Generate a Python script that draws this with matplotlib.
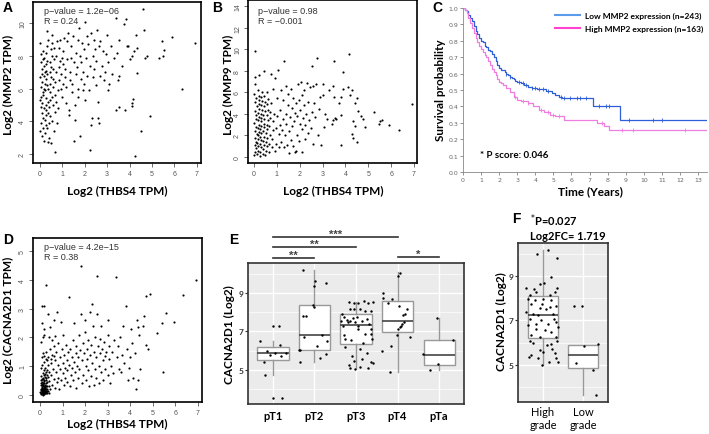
import numpy as np
import matplotlib
matplotlib.use("Agg")
import matplotlib.pyplot as plt
from matplotlib.lines import Line2D

# ---- data ----
# A: THBS4 vs MMP2 (log2 TPM)
pts_mmp2 = [(0.02,3.4),(0.05,3.9),(0.08,4.5),(0.03,4.9),(0.10,5.1),(0.06,5.5),(0.12,5.8),(0.04,6.1),(0.09,6.4),(0.02,6.7),(0.11,6.9),(0.07,7.2),(0.03,7.6),(0.13,7.8),(0.05,8.1),(0.0,8.8),(0.15,8.3),(0.08,3.1),(0.14,4.2),(0.01,5.3),
    (0.16,4.8),(0.18,6.0),(0.17,6.8),(0.19,7.4),(0.14,3.6),(0.20,2.8),(0.15,5.6),(0.21,6.3),(0.22,7.0),(0.16,7.9),
    (0.24,3.3),(0.26,3.8),(0.23,4.1),(0.28,4.4),(0.25,4.7),(0.29,5.0),(0.27,5.4),(0.24,5.9),(0.30,6.2),(0.26,6.6),(0.31,6.9),(0.28,7.1),(0.25,7.5),(0.33,7.7),(0.29,8.2),(0.32,8.6),(0.34,9.0),(0.30,9.5),(0.36,5.2),(0.35,6.0),(0.37,4.5),(0.33,3.6),(0.38,2.75),
    (0.40,3.0),(0.42,3.9),(0.45,4.3),(0.41,4.9),(0.47,5.3),(0.44,5.8),(0.43,6.3),(0.48,6.7),(0.46,7.0),(0.50,7.3),(0.45,7.6),(0.52,8.0),(0.49,8.4),(0.53,8.8),(0.55,9.3),(0.51,2.7),(0.56,4.0),(0.58,5.0),(0.54,5.5),(0.57,6.1),(0.60,6.6),(0.59,7.2),(0.62,7.8),(0.61,8.5),(0.64,3.4),(0.66,4.6),(0.68,5.6),(0.65,6.4),(0.70,7.0),(0.69,2.15),(0.72,8.0),(0.74,8.9),(0.71,5.2),
    (0.78,3.9),(0.80,4.8),(0.82,5.9),(0.85,6.5),(0.83,7.3),(0.88,7.7),(0.86,8.5),(0.90,9.0),(0.92,6.0),(0.95,6.9),(0.97,7.9),(1.00,5.5),(1.02,6.3),(1.05,7.5),(1.03,8.3),(1.08,9.1),(1.10,6.7),(1.12,7.2),(1.15,5.1),(1.18,6.1),(1.20,7.8),(1.22,8.9),(1.25,9.4),(1.28,4.4),(1.30,4.7),(1.32,6.5),(1.35,7.0),(1.38,7.9),(1.40,8.6),(1.42,5.8),(1.45,6.3),(1.48,9.2),(1.50,7.6),(1.52,2.8),(1.55,5.0),(1.58,4.1),(1.60,6.9),(1.62,8.2),(1.65,7.3),(1.68,6.0),(1.70,5.5),(1.72,9.0),(1.75,9.7),(1.78,8.0),(1.80,3.1),(1.82,6.6),(1.85,7.6),(1.88,8.8),(1.90,5.9),(1.92,7.0),(1.95,8.4),(1.98,6.3),(2.00,10.05),(2.02,5.3),(2.05,7.9),(2.08,9.2),(2.10,6.8),(2.15,8.7),(2.18,5.9),(2.22,7.4),(2.25,2.25),(2.28,9.4),(2.30,3.8),(2.32,4.2),(2.35,6.7),(2.38,8.0),(2.40,7.2),(2.42,9.0),(2.45,8.4),(2.50,6.2),(2.52,7.7),(2.55,9.6),(2.58,5.2),(2.60,4.2),(2.62,8.6),(2.65,3.9),(2.68,8.9),(2.70,6.8),(2.75,7.4),(2.80,8.3),(2.85,6.5),(2.90,7.0),(2.95,8.1),(3.00,9.3),(3.02,5.9),(3.05,7.6),(3.10,6.3),(3.15,8.6),(3.20,6.9),(3.30,7.9),(3.40,10.3),(3.45,8.2),(3.50,6.5),(3.52,6.8),(3.55,9.0),(3.40,4.7),(3.55,4.9),(3.65,7.4),(3.75,9.95),(3.80,4.7),(3.85,10.25),(3.88,8.6),(3.95,8.6),(4.00,7.8),(4.10,4.95),(4.12,5.15),(4.15,5.35),(4.10,8.0),(4.20,8.3),(4.25,1.85),(4.30,9.3),(4.32,8.5),(4.35,6.95),(4.50,3.4),(4.62,10.9),(4.66,9.6),(4.70,7.9),(4.80,8.0),(4.90,4.35),(5.30,7.9),(5.45,8.9),(5.50,8.0),(5.55,8.35),(5.90,9.15),(6.35,6.0),(6.90,8.8)]

# B: THBS4 vs MMP9
pts_mmp9 = [(0.02,0.2),(0.05,0.5),(0.08,0.8),(0.03,1.1),(0.10,1.4),(0.06,1.8),(0.12,2.1),(0.04,2.4),(0.09,2.8),(0.02,3.2),(0.11,3.5),(0.07,3.9),(0.03,4.3),(0.13,4.7),(0.05,5.1),(0.08,5.5),(0.0,5.9),(0.03,6.8),(0.06,7.4),(0.03,9.9),(0.14,0.3),(0.16,0.6),(0.18,1.0),(0.15,1.3),(0.19,1.7),(0.17,2.0),(0.20,2.3),(0.16,2.7),(0.21,3.0),(0.18,3.4),(0.22,3.7),(0.19,4.1),(0.23,4.5),(0.20,4.9),(0.24,5.3),(0.21,5.7),(0.17,6.2),(0.22,7.6),(0.25,0.1),(0.27,0.5),(0.29,0.9),(0.26,1.2),(0.31,1.6),(0.28,1.9),(0.30,2.2),(0.27,2.6),(0.32,2.9),(0.29,3.3),(0.33,3.6),(0.30,4.0),(0.34,4.4),(0.31,4.8),(0.35,5.2),(0.32,5.6),(0.36,6.0),(0.38,0.3),(0.40,0.7),(0.42,1.1),(0.39,1.5),(0.44,1.9),(0.41,2.4),(0.45,2.8),(0.43,3.1),(0.46,3.5),(0.40,3.9),(0.47,4.3),(0.44,4.7),(0.48,5.1),(0.42,5.7),(0.45,8.0),(0.50,0.2),(0.52,0.6),(0.55,1.0),(0.53,1.4),(0.57,1.8),(0.54,2.2),(0.58,2.6),(0.56,3.0),(0.60,3.4),(0.55,3.9),(0.61,4.4),(0.59,4.9),(0.62,5.4),(0.58,6.0),(0.65,0.5),(0.68,1.2),(0.70,2.0),(0.66,2.9),(0.72,3.6),(0.69,4.2),(0.74,5.0),(0.75,7.7),(0.78,0.9),(0.80,1.7),(0.82,2.5),(0.85,3.3),(0.88,4.0),(0.83,6.3),(0.90,7.3),(0.92,0.6),(0.95,1.2),(0.98,2.7),(1.00,3.8),(1.02,5.5),(1.05,8.1),(1.08,0.9),(1.10,2.1),(1.12,3.0),(1.15,4.4),(1.18,6.2),(1.20,1.4),(1.22,2.5),(1.25,3.5),(1.28,5.3),(1.31,8.9),(1.32,0.9),(1.35,2.0),(1.38,4.0),(1.40,6.6),(1.42,3.1),(1.45,1.1),(1.48,4.8),(1.50,5.9),(1.52,0.4),(1.55,2.4),(1.58,3.7),(1.60,6.3),(1.62,1.6),(1.65,2.9),(1.68,4.6),(1.70,5.5),(1.72,1.0),(1.75,3.3),(1.78,0.5),(1.80,4.1),(1.82,5.0),(1.85,0.6),(1.88,2.0),(1.90,3.8),(1.92,6.8),(1.95,5.3),(1.98,1.5),(2.00,3.1),(2.02,4.4),(2.05,7.0),(2.08,2.6),(2.10,5.8),(2.12,0.5),(2.15,3.6),(2.18,4.8),(2.20,6.2),(2.22,1.7),(2.25,3.0),(2.28,4.0),(2.30,6.9),(2.35,2.2),(2.38,5.1),(2.40,3.4),(2.45,6.5),(2.50,2.7),(2.53,8.46),(2.55,4.2),(2.58,6.6),(2.60,1.2),(2.62,5.0),(2.65,3.7),(2.70,6.8),(2.75,9.25),(2.78,2.0),(2.85,4.5),(2.90,5.6),(2.95,1.1),(3.00,6.8),(3.02,5.8),(3.05,2.8),(3.10,4.0),(3.20,3.5),(3.30,6.2),(3.40,3.1),(3.45,3.4),(3.45,6.6),(3.50,8.9),(3.50,5.6),(3.55,3.6),(3.60,3.5),(3.70,5.0),(3.80,3.9),(3.80,5.6),(3.80,1.1),(3.90,6.3),(3.90,7.9),(4.10,6.5),(4.15,9.55),(4.20,5.8),(4.30,6.2),(4.30,2.1),(4.35,1.8),(4.35,3.3),(4.40,2.9),(4.40,5.0),(4.50,1.4),(4.50,5.5),(4.55,4.3),(4.70,3.8),(4.75,3.5),(4.85,2.8),(5.23,4.15),(5.45,3.1),(5.50,3.3),(5.60,3.4),(5.90,2.95),(6.35,2.55),(6.90,4.9)]

# D: THBS4 vs CACNA2D1
pts_cacna = [(0.05,0.05),(0.08,0.12),(0.10,0.08),(0.12,0.18),(0.14,0.05),(0.16,0.22),(0.18,0.1),(0.20,0.15),(0.07,0.28),(0.11,0.35),(0.15,0.3),(0.19,0.4),(0.22,0.05),(0.24,0.25),(0.26,0.12),(0.09,0.45),(0.13,0.55),(0.17,0.5),(0.21,0.62),(0.25,0.42),(0.28,0.3),(0.30,0.08),(0.32,0.2),(0.06,0.65),(0.12,0.75),(0.18,0.85),(0.23,0.72),(0.28,0.58),(0.33,0.45),(0.35,0.15),(0.04,0.95),(0.10,1.05),(0.16,1.15),(0.22,0.95),(0.27,1.25),(0.31,0.88),(0.36,0.62),(0.38,0.3),(0.40,0.05),(0.08,1.3),(0.14,1.45),(0.20,1.35),(0.25,1.5),(0.30,1.2),(0.35,1.05),(0.40,0.8),(0.42,0.48),(0.45,0.2),(0.12,0.0),(0.03,0.2),(0.06,1.85),(0.12,2.0),(0.16,2.1),(0.20,2.3),(0.10,2.5),(0.10,3.1),(0.20,3.1),(0.25,3.84),(0.45,2.35),(0.35,2.8),(0.60,2.6),(0.75,2.9),(0.40,2.0),(0.65,2.05),(0.48,1.1),(0.50,0.7),(0.52,1.4),(0.55,0.35),(0.58,0.9),(0.60,1.7),(0.62,0.55),(0.65,1.2),(0.68,0.25),(0.70,0.8),(0.72,1.5),(0.75,0.45),(0.78,1.05),(0.80,1.8),(0.82,0.6),(0.85,0.2),(0.88,1.3),(0.90,0.9),(0.93,0.5),(0.95,2.55),(0.97,1.6),(1.00,2.1),(1.00,0.75),(1.03,1.1),(1.05,0.35),(1.08,1.4),(1.10,0.95),(1.12,0.6),(1.15,1.75),(1.18,1.2),(1.20,0.45),(1.22,0.85),(1.25,1.5),(1.28,3.41),(1.30,1.05),(1.32,0.3),(1.35,1.6),(1.38,0.7),(1.40,1.3),(1.42,0.95),(1.45,1.9),(1.48,0.5),(1.50,2.5),(1.52,1.15),(1.55,0.8),(1.58,1.45),(1.60,0.25),(1.62,1.7),(1.65,1.0),(1.68,0.6),(1.70,1.3),(1.72,2.1),(1.75,0.9),(1.78,1.55),(1.80,2.8),(1.82,4.5),(1.85,0.4),(1.88,1.2),(1.90,1.8),(1.92,0.7),(1.95,1.45),(1.98,2.2),(2.00,2.6),(2.02,1.0),(2.05,0.5),(2.08,1.6),(2.10,1.25),(2.12,0.85),(2.15,1.9),(2.18,0.3),(2.20,2.9),(2.22,1.4),(2.25,0.65),(2.28,1.75),(2.30,3.15),(2.32,1.1),(2.35,2.4),(2.38,0.35),(2.40,1.5),(2.42,0.9),(2.45,2.0),(2.48,1.3),(2.50,0.6),(2.53,4.12),(2.55,2.8),(2.58,1.7),(2.60,1.0),(2.62,0.4),(2.65,1.95),(2.68,1.45),(2.70,2.4),(2.72,0.8),(2.75,1.6),(2.78,1.2),(2.80,0.5),(2.85,1.85),(2.88,1.35),(2.90,0.9),(2.95,1.5),(3.00,2.6),(3.00,2.1),(3.02,0.7),(3.05,1.25),(3.08,1.7),(3.10,0.4),(3.15,1.0),(3.20,1.5),(3.25,0.75),(3.30,1.9),(3.37,4.1),(3.40,1.3),(3.45,1.7),(3.50,0.9),(3.55,2.0),(3.60,0.8),(3.65,1.4),(3.70,2.4),(3.75,1.1),(3.80,3.1),(3.85,1.6),(3.90,0.5),(3.95,0.95),(4.00,1.3),(4.05,2.3),(4.10,1.8),(4.15,0.6),(4.20,1.45),(4.25,0.2),(4.30,2.6),(4.35,0.5),(4.35,2.35),(4.40,2.1),(4.45,0.9),(4.55,2.4),(4.60,2.75),(4.70,1.75),(4.70,3.45),(4.80,1.6),(4.90,3.5),(5.20,2.15),(5.40,2.5),(5.45,0.8),(5.60,2.85),(5.95,2.55),(6.36,3.49),(6.91,4.01),
    # the dense blob near the origin
    (0.02,0.1),(0.04,0.02),(0.06,0.18),(0.09,0.22),(0.11,0.02),(0.13,0.12),(0.15,0.17),(0.17,0.03),(0.19,0.25),(0.21,0.12),(0.23,0.18),(0.25,0.05),(0.27,0.2),(0.29,0.15),(0.31,0.32),(0.03,0.35),(0.05,0.4),(0.08,0.33),(0.10,0.25),(0.12,0.42),(0.14,0.38),(0.16,0.08),(0.18,0.3),(0.20,0.48),(0.22,0.28),(0.24,0.35),(0.26,0.5),(0.28,0.1),(0.06,0.08),(0.08,0.05),(0.10,0.15),(0.12,0.1),(0.14,0.22),(0.16,0.14),(0.18,0.2),(0.20,0.06),(0.22,0.15),(0.24,0.1),(0.04,0.5),(0.07,0.55),(0.15,0.6),(0.19,0.7),(0.26,0.8),(0.33,0.7),(0.37,1.3),(0.43,1.6),(0.50,1.25),(0.55,1.9),(0.62,1.35)]

# C: Kaplan-Meier curves
low_t = [0, 0.1, 0.2, 0.3, 0.4, 0.5, 0.6, 0.7, 0.8, 0.9, 1.0, 1.1, 1.2, 1.3, 1.4, 1.5, 1.6, 1.7, 1.8, 1.9, 2.0, 2.1, 2.2, 2.3, 2.4, 2.5, 2.6, 2.7, 2.8, 2.9, 3.0, 3.2, 3.4, 3.6, 3.8, 4.1, 4.6, 4.9, 5.1, 5.3, 5.5, 7.2, 8.7]
low_s = [1.0, 0.99, 0.98, 0.96, 0.94, 0.92, 0.89, 0.86, 0.84, 0.82, 0.80, 0.79, 0.77, 0.76, 0.745, 0.735, 0.72, 0.70, 0.675, 0.655, 0.635, 0.625, 0.62, 0.61, 0.60, 0.59, 0.58, 0.575, 0.565, 0.555, 0.55, 0.54, 0.53, 0.52, 0.51, 0.505, 0.495, 0.48, 0.47, 0.46, 0.45, 0.40, 0.32]
low_cens = [2.4, 2.6, 3.1, 3.3, 3.5, 3.8, 4.0, 4.2, 4.4, 4.7, 5.4, 5.6, 5.9, 6.3, 6.5, 6.8, 7.5, 7.9, 8.1, 9.2, 10.5, 11.0]
high_t = [0, 0.1, 0.2, 0.3, 0.4, 0.5, 0.6, 0.7, 0.8, 0.9, 1.0, 1.1, 1.2, 1.3, 1.4, 1.5, 1.6, 1.7, 1.8, 1.9, 2.0, 2.1, 2.2, 2.4, 2.6, 2.8, 3.0, 3.2, 3.6, 3.9, 4.2, 4.5, 4.8, 5.1, 5.6, 7.4, 7.8, 8.1]
high_s = [1.0, 0.985, 0.97, 0.94, 0.91, 0.88, 0.85, 0.82, 0.79, 0.77, 0.75, 0.73, 0.715, 0.70, 0.675, 0.65, 0.63, 0.61, 0.59, 0.57, 0.55, 0.54, 0.53, 0.51, 0.49, 0.46, 0.44, 0.43, 0.42, 0.40, 0.38, 0.365, 0.35, 0.34, 0.32, 0.30, 0.28, 0.255]
high_cens = [2.9, 3.3, 3.6, 4.3, 4.7, 5.0, 5.3, 7.7, 8.8, 9.4, 12.3]
t_end = 13.5

# E: CACNA2D1 by pT stage, box stats (q1, med, q3, whisker lo, whisker hi)
stages = ["pT1", "pT2", "pT3", "pT4", "pTa"]
stage_box = [(5.54, 5.87, 6.2, 4.76, 6.5), (6.03, 6.84, 8.36, 5.4, 10.22),
             (6.34, 7.35, 7.9, 5.09, 8.55), (6.97, 7.54, 8.58, 4.91, 10.1),
             (5.26, 5.8, 6.57, 5.0, 7.68)]
pT1_pts = [(-0.31,6.5),(0,7.31),(0.14,7.31),(-0.14,5.97),(0.16,6.28),(-0.22,5.42),(-0.06,5.8),(0.2,5.75),(0.32,5.89),(0.04,5.87),(-0.2,4.74),(0,3.54),(0.22,3.54)]
pT2_pts = [(-0.27,10.22),(0.02,9.6),(-0.01,9.35),(0.27,9.5),(-0.04,8.36),(-0.01,8.25),(-0.27,7.8),(-0.21,7.82),(-0.35,6.03),(-0.38,6.03),(-0.26,6.69),(0.17,6.84),(0.31,6.48),(0.07,6.22),(0.27,5.83),(0.14,5.63),(-0.34,5.4)]
pT3_pts = [(-0.18,8.55),(-0.06,8.46),(0.06,8.5),(0.2,8.57),(0.29,8.46),(0.4,8.51),(-0.15,8.17),(-0.04,8.17),(0.1,8.17),(0.22,8.04),(0.35,8.04),(-0.34,7.9),(-0.28,7.73),(-0.22,7.59),(-0.14,7.56),(-0.07,7.68),(0.02,7.73),(-0.2,7.47),(-0.02,7.47),(0.14,7.56),(0.31,7.38),(0.36,7.12),(-0.3,6.84),(-0.27,6.63),(-0.12,6.55),(0.06,7.12),(0.22,6.86),(0.35,6.86),(0.39,6.63),(0.18,6.4),(-0.26,6.17),(0.1,6.11),(0.27,5.9),(-0.1,5.73),(0.14,5.59),(0.35,5.42),(0.41,5.35),(-0.06,5.47),(-0.02,5.07),(0.09,5.17),(0.28,5.12),(-0.18,5.26),(-0.14,5.09),(-0.31,7.3),(0.06,7.3),(-0.36,7.57),(0.27,7.64)]
pT4_pts = [(0.05,10.03),(0.02,9.9),(-0.35,8.98),(-0.35,8.72),(-0.22,8.46),(-0.13,8.69),(0.03,8.34),(0.23,8.17),(0.13,7.85),(0.16,7.47),(0.11,7.38),(0.05,7.21),(0.02,7.12),(0.08,7.3),(0.29,6.7),(-0.01,6.84),(-0.15,6.25),(-0.37,5.99),(-0.17,4.9),(0.18,7.9)]
pTa_pts = [(-0.06,7.68),(0.34,6.57),(-0.39,5.82),(-0.02,5.3),(-0.22,5.0)]
# significance brackets: (from stage idx, to stage idx, y, label)
sig_pairs = [(1, 4, 11.91, "***"), (1, 3, 11.39, "**"), (1, 2, 10.82, "**"), (4, 5, 10.87, "*")]

# F: CACNA2D1 by grade
grades = ["High\ngrade", "Low\ngrade"]
grade_box = [(6.21, 7.25, 8.11, 5.0, 10.16), (4.85, 5.47, 5.92, 3.64, 5.92)]
high_pts = [(-0.15,10.0),(0.13,10.16),(0.35,9.79),(0.21,8.96),(-0.07,8.63),(0.03,8.67),(-0.42,8.44),(-0.23,8.41),(-0.17,8.29),(-0.33,8.14),(0.36,8.44),(0.29,8.26),(-0.38,7.96),(0,7.96),(0.21,7.93),(0.33,7.67),(-0.29,7.74),(-0.08,7.55),(0.08,7.52),(0.17,7.59),(-0.25,7.3),(-0.13,7.25),(0.25,7.3),(-0.33,7.07),(-0.04,7.0),(0.13,6.85),(0.33,6.93),(-0.38,6.78),(-0.17,6.63),(0.04,6.56),(0.21,6.48),(-0.29,6.36),(0.33,6.26),(-0.08,6.26),(-0.33,6.07),(-0.25,6.0),(0.11,5.89),(0.21,5.96),(0.35,6.07),(-0.08,5.67),(0,5.59),(-0.29,5.47),(-0.35,5.37),(-0.13,5.33),(0.33,5.33),(0.38,5.12),(0.14,5.12),(-0.03,5.0),(0.29,5.52),(0.23,5.74),(-0.21,7.9),(0.17,8.14),(-0.42,7.37),(0.38,6.7),(-0.02,7.74),(0.28,7.07),(-0.17,6.85)]
low_pts = [(-0.23,7.67),(-0.02,7.67),(0.02,5.84),(-0.17,5.07),(0.38,5.96),(0.25,4.79),(0.32,3.64)]

# ---- layout helpers (pixel coordinates of the 709x435 picture) ----
W, H = 709, 435
fig = plt.figure(figsize=(W / 100, H / 100), dpi=100)
LAB = dict(family="Lato", fontweight="bold")
ARIAL = "Liberation Sans"


def box_px(l, t, r, b):
    return fig.add_axes([l / W, 1 - b / H, (r - l) / W, (b - t) / H])


def ftext(x, y, s, **kw):
    fig.text(x / W, 1 - y / H, s, **kw)


def r_scatter(ax, pts, xlim, ylim, yticks):
    pts = np.array(pts)
    ax.scatter(pts[:, 0], pts[:, 1], s=2.4, c="black", linewidths=0)
    ax.set_xlim(xlim)
    ax.set_ylim(ylim)
    ax.set_xticks(range(8))
    ax.set_yticks(yticks)
    ax.tick_params(labelsize=5, colors="#555555", length=3, width=0.6, pad=2)
    for lb in ax.get_xticklabels() + ax.get_yticklabels():
        lb.set_family(ARIAL)
    for lb in ax.get_yticklabels():
        lb.set_rotation(90)
        lb.set_va("center")
    for sp in ax.spines.values():
        sp.set_linewidth(1.2)


# A
axa = box_px(33, 3, 201, 164)
r_scatter(axa, pts_mmp2, (-0.31, 7.19), (1.45, 11.3), [2, 4, 6, 8, 10])
ftext(44, 12, "p\u2212value = 1.2e\u221206", fontsize=6.5, family=ARIAL, va="center", color="#333")
ftext(44, 21, "R = 0.24", fontsize=6.5, family=ARIAL, va="center", color="#333")
ftext(8, 85, "Log2 (MMP2 TPM)", rotation=90, ha="center", va="center", fontsize=8.5, **LAB)
ftext(117, 191, "Log2 (THBS4 TPM)", ha="center", va="center", fontsize=8.5, **LAB)
ftext(3, 8, "A", fontsize=10, fontweight="bold", family=ARIAL, va="center")

# B
axb = box_px(248, 1, 417, 164)
r_scatter(axb, pts_mmp9, (-0.26, 7.13), (-0.56, 14.6), range(0, 15, 2))
ftext(258, 12, "p\u2212value = 0.98", fontsize=6.5, family=ARIAL, va="center", color="#333")
ftext(258, 21, "R = \u22120.001", fontsize=6.5, family=ARIAL, va="center", color="#333")
ftext(228, 85, "Log2 (MMP9 TPM)", rotation=90, ha="center", va="center", fontsize=8.5, **LAB)
ftext(333, 191, "Log2 (THBS4 TPM)", ha="center", va="center", fontsize=8.5, **LAB)
ftext(212, 8, "B", fontsize=10, fontweight="bold", family=ARIAL, va="center")

# C
axc = box_px(463, 9, 707, 173)
for t, s, cens, col in [(low_t, low_s, low_cens, "#2f5fd8"), (high_t, high_s, high_cens, "#f07de0")]:
    tt = np.append(t, t_end)
    ss = np.append(s, s[-1])
    axc.step(tt, ss, where="post", color=col, lw=0.9)
    idx = np.searchsorted(t, cens, side="right") - 1
    axc.plot(cens, np.array(s)[idx], ls="none", marker="|", ms=3, mew=0.6, color=col)
axc.set_xlim(0, t_end)
axc.set_ylim(0, 1.0)
axc.set_xticks(range(14))
axc.set_yticks(np.round(np.arange(0, 1.01, 0.1), 1))
axc.set_yticklabels([f"{v:.1f}" for v in np.arange(0, 1.01, 0.1)])
axc.tick_params(labelsize=4.5, colors="#666666", length=2, width=0.5, pad=1.5)
for side in ["top", "right"]:
    axc.spines[side].set_visible(False)
for side in ["left", "bottom"]:
    axc.spines[side].set_color("#888888")
    axc.spines[side].set_linewidth(0.6)
handles = [Line2D([], [], color="#5b9bea", lw=1.5), Line2D([], [], color="#ff40d0", lw=1.5)]
axc.legend(handles, ["Low MMP2 expression (n=243)", "High MMP2 expression (n=163)"],
           loc="upper right", frameon=False, handlelength=3, handletextpad=0.5,
           borderaxespad=0.1, labelspacing=0.6, prop=dict(family="Lato", weight="bold", size=6))
ftext(480, 156, "* P score: 0.046", fontsize=7, va="center", **LAB)
ftext(441, 90, "Survival probability", rotation=90, ha="center", va="center", fontsize=8.5, **LAB)
ftext(590, 192, "Time (Years)", ha="center", va="center", fontsize=8.5, **LAB)
ftext(432, 8, "C", fontsize=10, fontweight="bold", family=ARIAL, va="center")

# D
axd = box_px(33, 239, 202, 403)
r_scatter(axd, pts_cacna, (-0.31, 7.19), (-0.25, 5.46), range(0, 6))
ftext(44, 248, "p\u2212value = 4.2e\u221215", fontsize=6.5, family=ARIAL, va="center", color="#333")
ftext(44, 257, "R = 0.38", fontsize=6.5, family=ARIAL, va="center", color="#333")
ftext(8, 320, "Log2 (CACNA2D1 TPM)", rotation=90, ha="center", va="center", fontsize=8.5, **LAB)
ftext(117, 424, "Log2 (THBS4 TPM)", ha="center", va="center", fontsize=8.5, **LAB)
ftext(3, 240, "D", fontsize=10, fontweight="bold", family=ARIAL, va="center")


def gg_box(ax, boxes, groups, labels, ylim, xlim, label_weight):
    ax.set_facecolor("#EBEBEB")
    ax.set_xlim(xlim)
    ax.set_ylim(ylim)
    for y in [4, 6, 8, 10]:
        ax.axhline(y, color="white", lw=0.5, zorder=0)
    for y in [5, 7, 9]:
        ax.axhline(y, color="white", lw=1.0, zorder=0)
    pos = np.arange(1, len(boxes) + 1)
    for p in pos:
        ax.axvline(p, color="white", lw=1.0, zorder=0)
    stats = [dict(q1=q1, med=m, q3=q3, whislo=lo, whishi=hi, fliers=[])
             for q1, m, q3, lo, hi in boxes]
    ax.bxp(stats, positions=pos, widths=0.75, patch_artist=True, showcaps=False,
           boxprops=dict(facecolor="white", edgecolor="#999999", lw=1.0),
           medianprops=dict(color="#444444", lw=1.2),
           whiskerprops=dict(color="#999999", lw=1.0), zorder=2)
    for p, g in zip(pos, groups):
        g = np.array(g)
        ax.scatter(p + g[:, 0], g[:, 1], s=3, c="black", linewidths=0, zorder=3)
    ax.set_xticks(pos)
    ax.set_xticklabels(labels)
    ax.set_yticks([5, 7, 9])
    ax.tick_params(axis="y", labelsize=6, colors="#333333", length=2, width=0.8, pad=1)
    ax.tick_params(axis="x", length=0, pad=4)
    for lb in ax.get_yticklabels():
        lb.set_family("Lato")
        lb.set_fontweight("bold")
    for lb in ax.get_xticklabels():
        lb.set_family("Lato")
        lb.set_fontweight(label_weight)
        lb.set_fontsize(8)
    for sp in ax.spines.values():
        sp.set_linewidth(1.2)
        sp.set_color("#333333")


# E
axe = box_px(248, 264, 464, 405)
gg_box(axe, stage_box, [pT1_pts, pT2_pts, pT3_pts, pT4_pts, pTa_pts], stages,
       (3.23, 10.56), (0.4, 5.6), "bold")
for a, b, y, lab in sig_pairs:
    axe.plot([a, b], [y, y], color="#333333", lw=1.2, clip_on=False)
    axe.text((a + b) / 2, y + 0.17, lab, ha="center", va="center", fontsize=8,
             color="#444444", fontweight="bold", family=ARIAL)
ftext(229, 335, "CACNA2D1 (Log2)", rotation=90, ha="center", va="center", fontsize=8.5, **LAB)
ftext(229, 240, "E", fontsize=10, fontweight="bold", family=ARIAL, va="center")

# F
axf = box_px(518, 244, 608, 403)
gg_box(axf, grade_box, [high_pts, low_pts], grades, (3.34, 10.48), (0.375, 2.625), "normal")
axf.tick_params(axis="x", pad=3)
ftext(501, 322, "CACNA2D1 (Log2)", rotation=90, ha="center", va="center", fontsize=8.5, **LAB)
ftext(512, 219, "F", fontsize=10, fontweight="bold", family=ARIAL, va="center")
ftext(530, 221, "$^{*}$P=0.027", fontsize=8, va="center", **LAB)
ftext(530, 236, "Log2FC= 1.719", fontsize=8, va="center", **LAB)

fig.savefig("out.png", dpi=100)
